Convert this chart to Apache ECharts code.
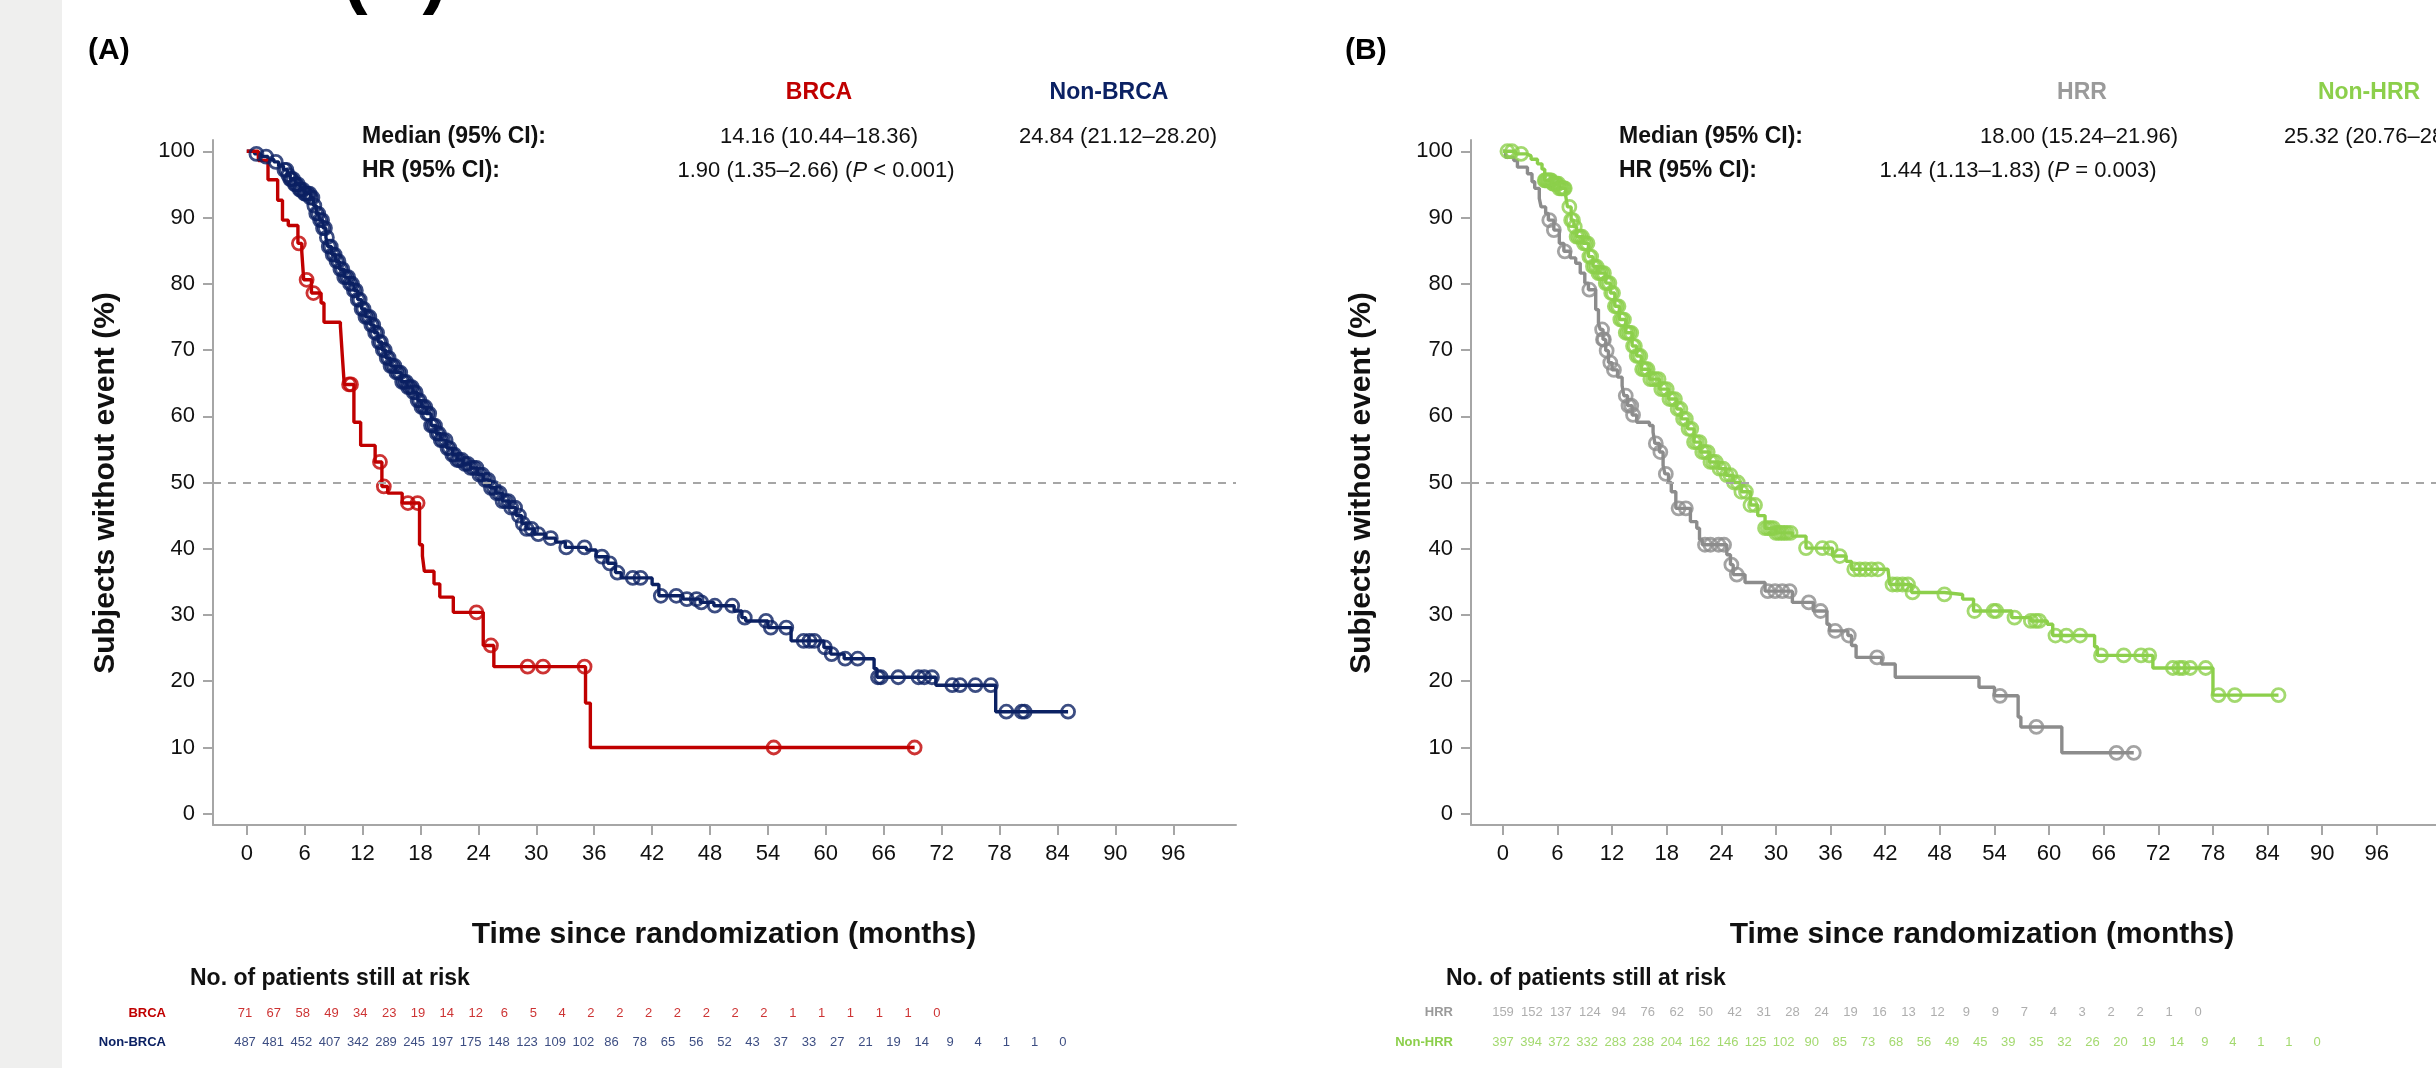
<!DOCTYPE html>
<html>
<head>
<meta charset="utf-8">
<script src="https://cdn.jsdelivr.net/npm/echarts@6/dist/echarts.min.js"></script>
<style>
html,body{margin:0;padding:0;background:#fff;}
#main{width:2436px;height:1068px;}
</style>
</head>
<body>
<div id="main"></div>
<script type="text/javascript">

    // axis ticks
    var xTicks = [0,6,12,18,24,30,36,42,48,54,60,66,72,78,84,90,96];
    var yTicks = [0,10,20,30,40,50,60,70,80,90,100];

    // panel A: step points [months, % without event], last point = end of follow-up
    var brcaSteps = [[0,100],[1.2,98.6],[2.2,95.7],[3.2,92.6],[3.7,89.6],[4.3,88.8],[5.3,86.1],[5.7,84.8],[5.9,80.6],
        [6.7,78.6],[7.7,77.1],[8.0,74.2],[9.7,73.6],[9.9,69.1],[10.1,64.8],[11.1,59.1],[11.8,55.6],[13.3,53.1],
        [14.0,49.4],[14.6,48.4],[16.1,46.9],[17.9,40.6],[18.2,38.9],[18.4,36.6],[19.4,34.7],[20.0,32.7],[21.4,30.4],
        [24.5,25.4],[25.6,22.2],[35.1,16.7],[35.6,10.0],[69.2,10.0]];
    var brcaCensor = [5.4,6.2,6.9,10.6,10.8,13.8,14.2,16.7,17.7,23.8,25.3,29.1,30.7,35.0,54.6,69.2];

    var nonBrcaSteps = [[0,100],[0.8,99.6],[1.5,99.2],[2.2,98.8],[2.8,98.4],[3.3,97.8],[3.8,97.2],[4.2,96.4],[4.5,95.8],
        [5.0,95.0],[5.5,94.2],[6.0,93.6],[6.6,93.0],[6.9,91.8],[7.2,90.6],[7.5,89.6],[7.9,88.4],[8.2,87.0],[8.4,85.6],
        [8.8,84.4],[9.2,83.4],[9.6,82.2],[10.1,81.0],[10.6,80.0],[11.1,79.0],[11.5,77.6],[11.9,76.2],[12.3,75.0],
        [12.8,73.8],[13.2,72.6],[13.6,71.2],[14.0,70.0],[14.4,68.8],[14.9,67.6],[15.4,66.6],[16.0,65.2],[16.6,64.4],
        [17.2,63.6],[17.7,62.4],[18.1,61.4],[18.6,60.4],[19.1,58.6],[19.6,57.4],[20.1,56.4],[20.7,55.2],[21.3,54.2],
        [21.8,53.4],[22.4,52.8],[23.2,52.2],[23.9,51.2],[24.5,50.4],[25.2,49.2],[25.8,48.4],[26.5,47.2],[27.2,46.2],
        [27.9,45.0],[28.5,43.8],[29.0,43.0],[29.8,42.2],[31.0,41.6],[32.0,41.0],[33.0,40.2],[35.2,39.8],[36.2,38.8],
        [37.4,37.8],[38.2,36.4],[38.8,35.6],[42.0,34.6],[42.7,32.9],[45.2,32.4],[47.0,31.9],[48.4,31.4],[50.5,30.6],
        [51.3,29.6],[51.7,29.1],[54.0,28.1],[56.4,26.1],[59.8,25.1],[60.5,24.1],[61.9,23.4],[65.0,21.9],[65.3,20.6],
        [71.4,19.4],[77.6,15.4],[85.1,15.4]];
    var nonBrcaCensor = [1.0,2.0,3.0,3.9,4.1,4.3,4.5,4.6,4.8,5.0,5.1,5.3,5.5,5.6,5.8,6.0,6.1,6.3,6.5,6.6,6.8,7.0,7.2,
        7.4,7.6,7.8,7.9,8.1,8.3,8.5,8.7,8.9,9.1,9.3,9.5,9.7,9.9,10.1,10.3,10.5,10.7,10.9,11.1,11.3,11.5,11.7,11.9,12.1,
        12.3,12.5,12.7,12.9,13.1,13.3,13.5,13.7,13.9,14.1,14.3,14.5,14.7,14.9,15.1,15.3,15.5,15.7,15.9,16.1,16.3,16.5,
        16.7,16.9,17.1,17.3,17.5,17.7,17.9,18.1,18.3,18.5,18.7,18.9,19.1,19.3,19.5,19.7,19.9,20.1,20.3,20.6,20.8,21.0,
        21.3,21.5,21.8,22.0,22.3,22.6,22.9,23.2,23.5,23.8,24.1,24.4,24.7,25.0,25.3,25.6,25.9,26.2,26.5,26.8,27.1,27.4,
        27.8,28.2,28.6,29.0,29.5,30.2,31.5,33.1,35.0,36.8,37.6,38.4,40.0,40.8,42.9,44.5,45.6,46.6,47.1,48.5,50.3,51.6,
        53.8,54.3,55.9,57.7,58.3,58.8,59.9,60.6,62.0,63.3,65.4,65.7,67.5,69.6,70.2,71.0,73.1,73.9,75.5,77.1,78.7,80.3,
        80.6,85.1];

    // panel B
    var hrrSteps = [[0,100],[0.3,99.1],[1.2,98.6],[1.6,97.6],[2.7,96.6],[3.2,95.4],[3.5,94.4],[4.0,92.9],[4.2,91.6],
        [4.7,90.6],[5.0,89.6],[5.6,88.1],[6.2,86.1],[6.7,84.9],[7.4,83.9],[8.0,83.1],[8.5,81.6],[9.0,80.1],[9.4,79.1],
        [10.2,76.1],[10.5,74.1],[10.7,73.1],[11.0,71.6],[11.3,69.9],[11.6,68.1],[12.0,67.0],[12.6,65.9],[13.1,64.6],
        [13.3,63.1],[13.7,61.6],[14.2,60.2],[14.7,59.1],[16.1,58.6],[16.5,57.6],[16.7,55.9],[17.2,54.6],[17.6,52.6],
        [17.8,51.3],[18.2,50.0],[18.5,48.6],[19.0,46.1],[20.6,44.1],[21.3,43.1],[21.6,41.4],[21.9,40.6],[24.6,39.1],
        [25.0,37.6],[25.3,36.1],[26.6,34.9],[28.8,33.6],[31.8,31.9],[34.1,30.6],[35.6,28.6],[35.9,27.6],[37.9,26.9],
        [38.3,25.4],[38.8,23.6],[41.6,22.6],[43.1,20.6],[52.3,19.1],[54.0,17.8],[56.6,14.6],[56.9,13.1],[61.4,9.2],
        [69.3,9.2]];
    var hrrCensor = [5.1,5.6,6.8,9.5,10.9,11.0,11.1,11.4,11.8,12.2,13.5,13.8,14.1,14.3,16.8,17.3,17.9,19.3,20.1,22.2,
        22.8,23.7,24.3,25.1,25.7,29.1,29.9,30.7,31.5,33.6,34.9,36.5,38.0,41.1,54.6,58.6,67.4,69.3];

    var nonHrrSteps = [[0,100],[1.4,99.6],[2.6,99.3],[3.1,98.8],[3.8,98.1],[4.3,97.3],[4.6,95.6],[5.4,95.1],[6.2,94.4],
        [6.9,93.3],[7.1,91.6],[7.5,89.6],[7.8,88.6],[8.1,87.1],[8.8,86.1],[9.4,84.1],[9.9,82.6],[10.4,81.6],[11.3,80.1],
        [11.8,78.6],[12.3,76.6],[12.8,74.6],[13.5,72.6],[14.2,70.6],[14.7,69.1],[15.2,67.1],[16.1,65.6],[17.2,64.1],
        [18.2,62.6],[19.1,61.1],[19.6,59.6],[20.3,58.1],[21.0,56.1],[21.7,54.6],[22.7,53.1],[23.7,52.1],[24.5,51.1],
        [25.3,50.0],[26.2,48.6],[27.2,46.6],[28.0,45.0],[28.8,43.1],[30.0,42.4],[31.8,41.9],[33.3,40.1],[36.2,38.9],
        [37.7,38.1],[38.3,36.9],[42.3,36.6],[42.5,34.6],[44.9,33.4],[48.5,33.1],[50.5,32.4],[51.7,30.6],[55.9,29.6],
        [58.0,29.1],[59.8,28.6],[60.4,26.9],[65.0,25.2],[65.3,23.9],[71.4,22.0],[78.0,17.9],[85.2,17.9]];
    var nonHrrCensor = [0.5,1.0,2.0,4.6,4.7,4.9,5.0,5.2,5.3,5.5,5.6,5.8,5.9,6.1,6.2,6.4,6.5,6.7,6.8,7.3,7.5,7.7,7.9,
        8.1,8.3,8.5,8.7,8.9,9.1,9.3,9.5,9.7,9.9,10.1,10.3,10.5,10.7,10.9,11.1,11.3,11.5,11.7,11.9,12.1,12.3,12.5,12.7,
        12.9,13.1,13.3,13.5,13.7,13.9,14.1,14.3,14.5,14.7,14.9,15.1,15.3,15.5,15.7,15.9,16.2,16.5,16.8,17.1,17.4,17.7,
        18.0,18.3,18.6,18.9,19.2,19.5,19.8,20.1,20.4,20.7,21.0,21.3,21.6,21.9,22.2,22.5,22.8,23.1,23.4,23.8,24.2,24.6,
        25.0,25.4,25.8,26.2,26.7,27.2,27.7,28.8,29.1,29.4,29.7,30.0,30.3,30.6,30.9,31.2,31.6,33.3,35.1,36.0,37.0,38.6,
        39.2,39.8,40.5,41.2,42.8,43.3,43.9,44.5,45.0,48.5,51.8,53.9,54.2,56.2,58.0,58.5,58.9,60.7,61.9,63.4,65.7,68.2,
        70.1,71.0,73.6,74.3,74.7,75.5,77.2,78.6,80.4,85.2];

    // numbers at risk
    var brcaRisk = [71,67,58,49,34,23,19,14,12,6,5,4,2,2,2,2,2,2,2,1,1,1,1,1,0];
    var nonBrcaRisk = [487,481,452,407,342,289,245,197,175,148,123,109,102,86,78,65,56,52,43,37,33,27,21,19,14,9,4,1,1,0];
    var hrrRisk = [159,152,137,124,94,76,62,50,42,31,28,24,19,16,13,12,9,9,7,4,3,2,2,1,0];
    var nonHrrRisk = [397,394,372,332,283,238,204,162,146,125,102,90,85,73,68,56,49,45,39,35,32,26,20,19,14,9,4,1,1,0];

    var FONT = '"Liberation Sans", Arial, sans-serif';
    var RED = '#c00000', NAVY = '#0b2163', GREY = '#8c8c8c', GREEN = '#8ccf4b';
    var AXIS = '#a6a6a6';

    // y of a censor mark = curve value at that time
    function censorPoints(steps, times){
        return times.map(function(t){
            var s = steps[0][1];
            for(var i=0;i<steps.length;i++){
                if(steps[i][0] <= t) s = steps[i][1];
            }
            return [t, s];
        });
    }

    function kmLine(steps, color, g, withRef){
        var s = {
            type: 'line', step: 'end', xAxisIndex: g, yAxisIndex: g,
            data: steps, showSymbol: false, z: 3,
            lineStyle: {color: color, width: 3.4}, itemStyle: {color: color}
        };
        if(withRef){
            s.markLine = {
                silent: true, symbol: 'none', label: {show: false},
                lineStyle: {type: [8, 7], color: AXIS, width: 2},
                data: [{yAxis: 50}]
            };
        }
        return s;
    }

    function kmCensor(steps, times, color, g){
        return {
            type: 'scatter', xAxisIndex: g, yAxisIndex: g, z: 4,
            data: censorPoints(steps, times), symbol: 'circle', symbolSize: 13,
            itemStyle: {color: 'rgba(0,0,0,0)', borderColor: color, borderWidth: 2.8}
        };
    }

    function mainX(g){
        return {
            gridIndex: g, type: 'value', min: -3.5, max: 102.5,
            axisLine: {show: true, onZero: false, lineStyle: {color: AXIS, width: 2}},
            axisTick: {show: true, customValues: xTicks, length: 10, lineStyle: {color: AXIS, width: 2}},
            axisLabel: {show: true, customValues: xTicks, margin: 18, fontSize: 22, color: '#111', fontFamily: FONT},
            splitLine: {show: false}
        };
    }
    function mainY(g){
        return {
            gridIndex: g, type: 'value', min: -1.7, max: 101.7,
            axisLine: {show: true, onZero: false, lineStyle: {color: AXIS, width: 2}},
            axisTick: {show: true, customValues: yTicks, length: 10, lineStyle: {color: AXIS, width: 2}},
            axisLabel: {show: true, customValues: yTicks, margin: 18, fontSize: 22, color: '#111', fontFamily: FONT},
            splitLine: {show: false}
        };
    }

    var grids = [
        {left: 213, top: 140, width: 1023, height: 685},
        {left: 1471, top: 140, width: 1023, height: 685}
    ];
    var xAxes = [mainX(0), mainX(1)];
    var yAxes = [mainY(0), mainY(1)];
    var series = [
        kmLine(nonBrcaSteps, NAVY, 0, true),
        kmCensor(nonBrcaSteps, nonBrcaCensor, NAVY, 0),
        kmLine(brcaSteps, RED, 0, false),
        kmCensor(brcaSteps, brcaCensor, RED, 0),
        kmLine(hrrSteps, GREY, 1, true),
        kmCensor(hrrSteps, hrrCensor, GREY, 1),
        kmLine(nonHrrSteps, GREEN, 1, false),
        kmCensor(nonHrrSteps, nonHrrCensor, GREEN, 1)
    ];

    // risk table rows: one small hidden grid per row
    function riskRow(values, color, left, step, top){
        var g = grids.length;
        grids.push({left: left, top: top - 6, width: step * (values.length - 1), height: 12});
        xAxes.push({gridIndex: g, type: 'value', min: 0, max: values.length - 1, show: false});
        yAxes.push({gridIndex: g, type: 'value', min: 0, max: 1, show: false});
        series.push({
            type: 'scatter', xAxisIndex: g, yAxisIndex: g, symbolSize: 1, silent: true,
            itemStyle: {color: 'rgba(0,0,0,0)'},
            data: values.map(function(v, i){ return [i, 0.5, v]; }),
            label: {show: true, position: 'inside', formatter: function(p){ return p.value[2]; },
                fontSize: 13, color: color, fontFamily: FONT}
        });
    }
    riskRow(brcaRisk, RED, 245, 28.83, 1013);
    riskRow(nonBrcaRisk, NAVY, 245, 28.2, 1042);
    riskRow(hrrRisk, '#9a9a9a', 1503, 28.96, 1012);
    riskRow(nonHrrRisk, GREEN, 1503, 28.07, 1042);

    function txt(x, y, text, size, color, bold, align, extra){
        var st = {text: text, fontSize: size, fontFamily: FONT, fill: color,
            fontWeight: bold ? 'bold' : 'normal', align: align || 'left', verticalAlign: 'middle'};
        if(extra) for(var k in extra) st[k] = extra[k];
        return {type: 'text', x: x, y: y, style: st, z: 10};
    }
    var italic = {i: {fontStyle: 'italic', fontSize: 22, fontFamily: FONT, fill: '#111'}};

    var graphics = [
        {type: 'rect', shape: {x: 0, y: 0, width: 62, height: 1068}, style: {fill: '#efefee'}, z: 0},
        {type: 'text', x: 395, y: 16, z: 10, style: {text: '(A)', fontSize: 76, fontWeight: 'bold', fontFamily: FONT,
            fill: '#000', align: 'center', verticalAlign: 'bottom'}},

        // panel A
        txt(88, 51, '(A)', 30, '#000', true),
        txt(819, 93, 'BRCA', 23, RED, true, 'center'),
        txt(1109, 93, 'Non-BRCA', 23, NAVY, true, 'center'),
        txt(362, 137, 'Median (95% CI):', 23, '#111', true),
        txt(819, 137, '14.16 (10.44–18.36)', 22, '#111', false, 'center'),
        txt(1118, 137, '24.84 (21.12–28.20)', 22, '#111', false, 'center'),
        txt(362, 171, 'HR (95% CI):', 23, '#111', true),
        txt(816, 171, '1.90 (1.35–2.66) ({i|P} < 0.001)', 22, '#111', false, 'center', {rich: italic}),
        {type: 'text', x: 106, y: 483, rotation: Math.PI / 2, z: 10, style: {text: 'Subjects without event (%)',
            fontSize: 30, fontWeight: 'bold', fontFamily: FONT, fill: '#111', align: 'center', verticalAlign: 'middle'}},
        txt(724, 935, 'Time since randomization (months)', 30, '#111', true, 'center'),
        txt(190, 979, 'No. of patients still at risk', 23, '#111', true),
        txt(166, 1013, 'BRCA', 13, RED, true, 'right'),
        txt(166, 1042, 'Non-BRCA', 13, NAVY, true, 'right'),

        // panel B
        txt(1345, 51, '(B)', 30, '#000', true),
        txt(2082, 93, 'HRR', 23, '#9a9a9a', true, 'center'),
        txt(2369, 93, 'Non-HRR', 23, GREEN, true, 'center'),
        txt(1619, 137, 'Median (95% CI):', 23, '#111', true),
        txt(2079, 137, '18.00 (15.24–21.96)', 22, '#111', false, 'center'),
        txt(2284, 137, '25.32 (20.76–28.50)', 22, '#111', false, 'left'),
        txt(1619, 171, 'HR (95% CI):', 23, '#111', true),
        txt(2018, 171, '1.44 (1.13–1.83) ({i|P} = 0.003)', 22, '#111', false, 'center', {rich: italic}),
        {type: 'text', x: 1362, y: 483, rotation: Math.PI / 2, z: 10, style: {text: 'Subjects without event (%)',
            fontSize: 30, fontWeight: 'bold', fontFamily: FONT, fill: '#111', align: 'center', verticalAlign: 'middle'}},
        txt(1982, 935, 'Time since randomization (months)', 30, '#111', true, 'center'),
        txt(1446, 979, 'No. of patients still at risk', 23, '#111', true),
        txt(1453, 1012, 'HRR', 13, '#9a9a9a', true, 'right'),
        txt(1453, 1042, 'Non-HRR', 13, GREEN, true, 'right')
    ];

    var myChart = echarts.init(document.getElementById('main'));
    myChart.setOption({
        animation: false,
        backgroundColor: '#fff',
        grid: grids,
        xAxis: xAxes,
        yAxis: yAxes,
        series: series,
        graphic: graphics
    });
</script>
</body>
</html>
